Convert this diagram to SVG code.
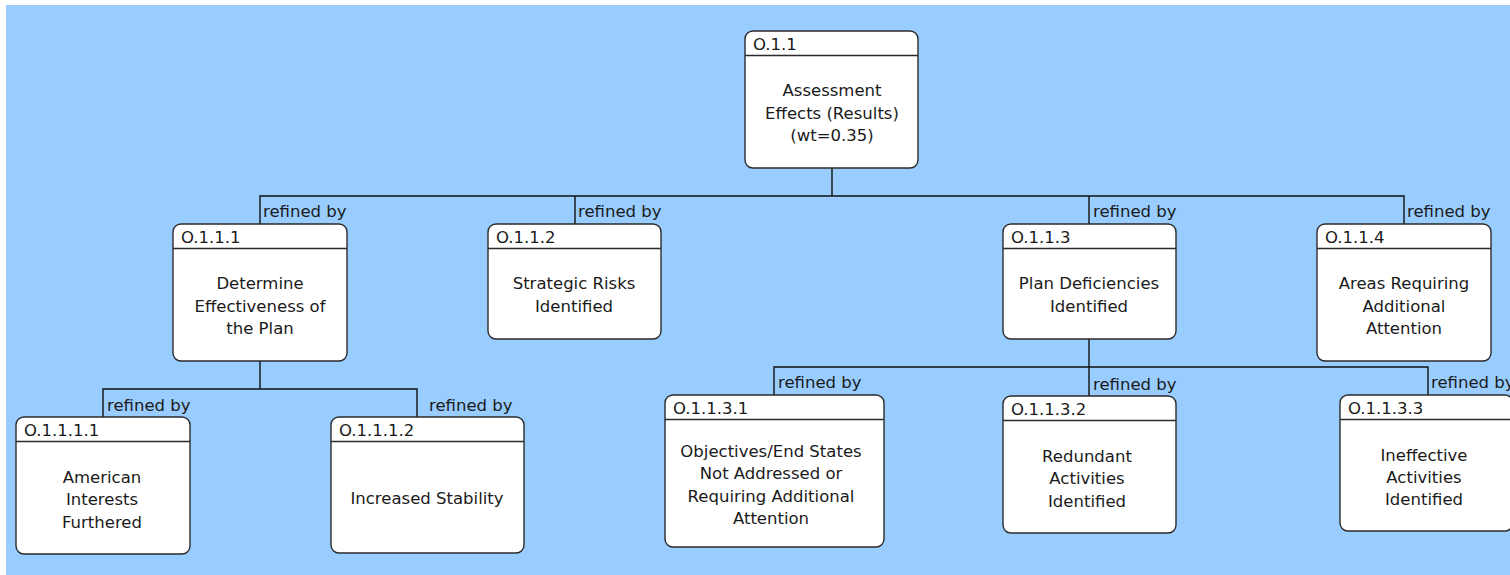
<svg xmlns="http://www.w3.org/2000/svg" width="1510" height="575" viewBox="0 0 1510 575">
  <style>
    .box { fill: #ffffff; stroke: #2b2b2b; stroke-width: 1.4; }
    .sep { stroke: #2b2b2b; stroke-width: 1.4; }
    .wire { fill: none; stroke: #111111; stroke-width: 1.4; }
    text { font-family: "DejaVu Sans", Verdana, sans-serif; font-size: 16.5px; fill: #1a1a1a; }
    .id { text-anchor: start; }
    .body { text-anchor: middle; dominant-baseline: central; }
  </style>

  <rect x="6" y="5" width="1504" height="570" fill="#99ccff"/>

  <!-- refinement links -->
  <g id="connectors">
    <path class="wire" d="M832,168 V196" stroke-width="2"/>
    <path class="wire" d="M260,224 V196 H1404 V224"/>
    <path class="wire" d="M575,196 V224"/>
    <path class="wire" d="M1089,196 V224"/>
    <path class="wire" d="M260,361 V389 M103,417 V389 H417 V417"/>
    <path class="wire" d="M1089,339 V396 M774,395 V367 H1428 V395"/>
    <text x="263" y="217">refined by</text>
    <text x="578" y="217">refined by</text>
    <text x="1093" y="217">refined by</text>
    <text x="1407" y="217">refined by</text>
    <text x="107" y="411">refined by</text>
    <text x="429" y="411">refined by</text>
    <text x="778" y="388">refined by</text>
    <text x="1093" y="390">refined by</text>
    <text x="1431" y="388">refined by</text>
  </g>

  <g id="n-O.1.1">
    <rect class="box" x="745" y="31" width="173" height="137" rx="8"/>
    <line class="sep" x1="745" y1="55.5" x2="918" y2="55.5"/>
    <text class="id" x="753" y="50">O.1.1</text>
    <text class="body" x="832" y="90">Assessment</text>
    <text class="body" x="832" y="113">Effects (Results)</text>
    <text class="body" x="832" y="135">(wt=0.35)</text>
  </g>

  <g id="n-O.1.1.1">
    <rect class="box" x="173" y="224" width="174" height="137" rx="8"/>
    <line class="sep" x1="173" y1="248.5" x2="347" y2="248.5"/>
    <text class="id" x="181" y="243">O.1.1.1</text>
    <text class="body" x="260" y="283">Determine</text>
    <text class="body" x="260" y="306">Effectiveness of</text>
    <text class="body" x="260" y="328">the Plan</text>
  </g>

  <g id="n-O.1.1.2">
    <rect class="box" x="488" y="224" width="173" height="115" rx="8"/>
    <line class="sep" x1="488" y1="248.5" x2="661" y2="248.5"/>
    <text class="id" x="496" y="243">O.1.1.2</text>
    <text class="body" x="574" y="283">Strategic Risks</text>
    <text class="body" x="574" y="306">Identified</text>
  </g>

  <g id="n-O.1.1.3">
    <rect class="box" x="1003" y="224" width="173" height="115" rx="8"/>
    <line class="sep" x1="1003" y1="248.5" x2="1176" y2="248.5"/>
    <text class="id" x="1011" y="243">O.1.1.3</text>
    <text class="body" x="1089" y="283">Plan Deficiencies</text>
    <text class="body" x="1089" y="306">Identified</text>
  </g>

  <g id="n-O.1.1.4">
    <rect class="box" x="1317" y="224" width="174" height="137" rx="8"/>
    <line class="sep" x1="1317" y1="248.5" x2="1491" y2="248.5"/>
    <text class="id" x="1325" y="243">O.1.1.4</text>
    <text class="body" x="1404" y="283">Areas Requiring</text>
    <text class="body" x="1404" y="306">Additional</text>
    <text class="body" x="1404" y="328">Attention</text>
  </g>

  <g id="n-O.1.1.1.1">
    <rect class="box" x="16" y="417" width="174" height="137" rx="8"/>
    <line class="sep" x1="16" y1="441.5" x2="190" y2="441.5"/>
    <text class="id" x="24" y="436">O.1.1.1.1</text>
    <text class="body" x="102" y="477">American</text>
    <text class="body" x="102" y="499">Interests</text>
    <text class="body" x="102" y="522">Furthered</text>
  </g>

  <g id="n-O.1.1.1.2">
    <rect class="box" x="331" y="417" width="193" height="136" rx="8"/>
    <line class="sep" x1="331" y1="441.5" x2="524" y2="441.5"/>
    <text class="id" x="339" y="436">O.1.1.1.2</text>
    <text class="body" x="427" y="498">Increased Stability</text>
  </g>

  <g id="n-O.1.1.3.1">
    <rect class="box" x="665" y="395" width="219" height="152" rx="8"/>
    <line class="sep" x1="665" y1="419.5" x2="884" y2="419.5"/>
    <text class="id" x="673" y="414">O.1.1.3.1</text>
    <text class="body" x="771" y="451">Objectives/End States</text>
    <text class="body" x="771" y="473">Not Addressed or</text>
    <text class="body" x="771" y="496">Requiring Additional</text>
    <text class="body" x="771" y="518">Attention</text>
  </g>

  <g id="n-O.1.1.3.2">
    <rect class="box" x="1003" y="396" width="173" height="137" rx="8"/>
    <line class="sep" x1="1003" y1="420.5" x2="1176" y2="420.5"/>
    <text class="id" x="1011" y="415">O.1.1.3.2</text>
    <text class="body" x="1087" y="456">Redundant</text>
    <text class="body" x="1087" y="478">Activities</text>
    <text class="body" x="1087" y="501">Identified</text>
  </g>

  <g id="n-O.1.1.3.3">
    <rect class="box" x="1340" y="395" width="173" height="136" rx="8"/>
    <line class="sep" x1="1340" y1="419.5" x2="1513" y2="419.5"/>
    <text class="id" x="1348" y="414">O.1.1.3.3</text>
    <text class="body" x="1424" y="455">Ineffective</text>
    <text class="body" x="1424" y="477">Activities</text>
    <text class="body" x="1424" y="499">Identified</text>
  </g>
</svg>
